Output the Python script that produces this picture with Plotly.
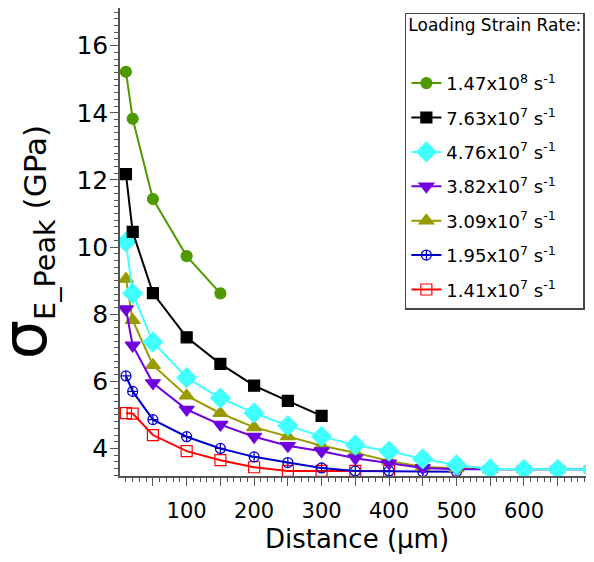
import plotly.graph_objects as go

distance = [10, 20, 50, 100, 150, 200, 250, 300, 350, 400, 450, 500, 550, 600, 650, 700]

rate_labels = [
    "1.47x10<sup>8</sup> s<sup>-1</sup>",
    "7.63x10<sup>7</sup> s<sup>-1</sup>",
    "4.76x10<sup>7</sup> s<sup>-1</sup>",
    "3.82x10<sup>7</sup> s<sup>-1</sup>",
    "3.09x10<sup>7</sup> s<sup>-1</sup>",
    "1.95x10<sup>7</sup> s<sup>-1</sup>",
    "1.41x10<sup>7</sup> s<sup>-1</sup>",
]

s_147e8 = [15.22, 13.82, 11.43, 9.73, 8.62]
s_763e7 = [12.17, 10.45, 8.63, 7.31, 6.52, 5.87, 5.42, 4.97]
s_476e7 = [10.15, 8.62, 7.17, 6.11, 5.50, 5.06, 4.68, 4.36, 4.10, 3.92, 3.69, 3.51, 3.39, 3.38, 3.38, 3.38]
s_382e7 = [8.15, 7.07, 5.95, 5.16, 4.71, 4.35, 4.08, 3.92, 3.71, 3.56, 3.42, 3.38, 3.38, 3.38, 3.38, 3.38]
s_309e7 = [9.05, 7.82, 6.48, 5.57, 5.05, 4.63, 4.36, 4.08, 3.87, 3.63, 3.45, 3.41, 3.38, 3.38, 3.38, 3.38]
s_195e7 = [6.16, 5.70, 4.86, 4.35, 4.00, 3.75, 3.58, 3.42, 3.33, 3.33, 3.31, 3.31]
s_141e7 = [5.05, 5.04, 4.40, 3.92, 3.65, 3.44, 3.33, 3.33, 3.33, 3.33]

x_ticks = [0, 50, 100, 150, 200, 250, 300, 350, 400, 450, 500, 550, 600, 650, 700]
x_ticktext = ["", "", "100", "", "200", "", "300", "", "400", "", "500", "", "600", "", ""]

series = [
    (s_147e8, rate_labels[0], "#4f9a00", "circle", 11),
    (s_763e7, rate_labels[1], "#000000", "square", 11),
    (s_476e7, rate_labels[2], "#40ffff", "diamond", 15),
    (s_382e7, rate_labels[3], "#7000e0", "triangle-down", 13),
    (s_309e7, rate_labels[4], "#999900", "triangle-up", 13),
    (s_195e7, rate_labels[5], "#0000cc", "circle-cross-open", 10),
    (s_141e7, rate_labels[6], "#ff0000", "square-open", 11),
]

fig = go.Figure()
for i, (ys, name, color, sym, size) in reversed(list(enumerate(series))):
    fig.add_trace(go.Scatter(
        x=distance[:len(ys)], y=ys, name=name, mode="lines+markers",
        legendgroup=f"g{i}", legendrank=i + 1,
        line=dict(color=color, width=2),
        marker=dict(symbol=sym, size=size, color=color, line=dict(color=color, width=1.2)),
    ))

FONT = "DejaVu Sans"
# page body has an 8px margin, so the figure is sized 8px smaller to fill the window
fig.update_layout(
    width=586, height=554,
    margin=dict(l=112, r=0, t=0, b=86),
    paper_bgcolor="white", plot_bgcolor="white",
    font=dict(family=FONT, color="black"),
    showlegend=True,
    legend=dict(
        x=0.601, y=0.99, xanchor="left", yanchor="top",
        traceorder="grouped", tracegroupgap=8,
        bgcolor="white", bordercolor="#444", borderwidth=1.5,
        font=dict(family=FONT, size=18),
        title=dict(text="<span style='font-size:17px'>Loading Strain Rate:</span><br> <br> ",
                   font=dict(family=FONT, size=13)),
    ),
    xaxis=dict(
        range=[1.2, 703.8], automargin=False,
        tickmode="array", tickvals=x_ticks, ticktext=x_ticktext,
        ticks="outside", ticklen=8, tickwidth=1.2, tickcolor="#555",
        minor=dict(dtick=10, tick0=0, ticks="outside", ticklen=4, tickwidth=1, tickcolor="#555"),
        showline=True, linecolor="#555", linewidth=1.5, mirror=True,
        showgrid=False, zeroline=False,
        tickfont=dict(family=FONT, size=21), ticklabelstandoff=7,
        title=dict(text="Distance (µm)", font=dict(family=FONT, size=26), standoff=8),
    ),
    yaxis=dict(
        range=[3.18, 17.12], automargin=False,
        tickmode="linear", tick0=0, dtick=2,
        ticks="outside", ticklen=8, tickwidth=1.2, tickcolor="#555",
        minor=dict(dtick=0.2, tick0=0, ticks="outside", ticklen=4, tickwidth=1, tickcolor="#555"),
        showline=True, linecolor="#555", linewidth=1.5,
        showgrid=False, zeroline=False,
        tickfont=dict(family=FONT, size=25), ticklabelstandoff=-3,
    ),
    annotations=[dict(
        text="<span style='font-size:62px'>σ</span><sub>E_Peak</sub><span style='font-size:31px'> (GPa)</span>",
        font=dict(family=FONT, size=41, color="black"),
        xref="paper", yref="paper", x=-0.2, y=0.5,
        xanchor="center", yanchor="middle", textangle=-90, showarrow=False,
    )],
)

fig.write_html("out.html")
